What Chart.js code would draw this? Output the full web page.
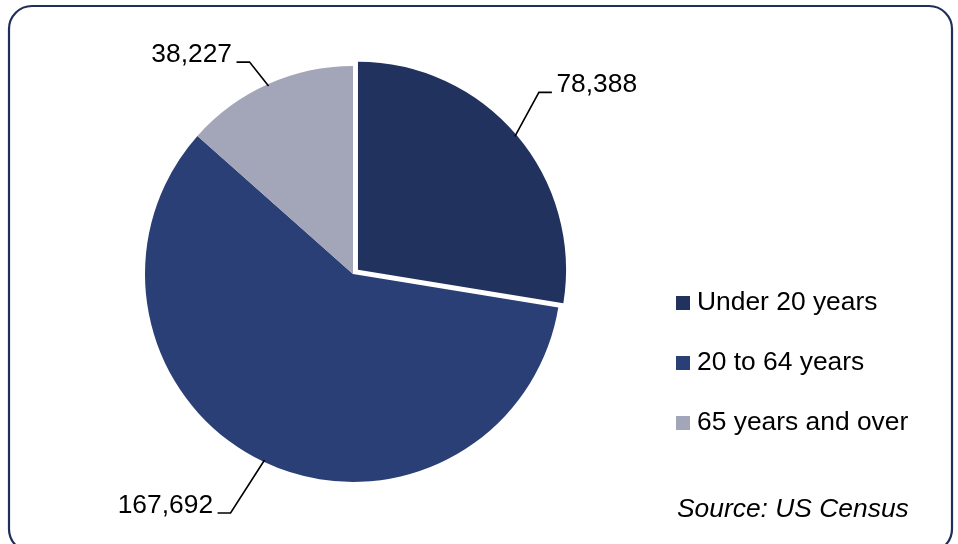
<!DOCTYPE html>
<html>
<head>
<meta charset="utf-8">
<script src="https://cdn.jsdelivr.net/npm/chart.js@4/dist/chart.umd.min.js"></script>
<style>
html, body { margin: 0; padding: 0; background: #fff; }
#wrap { width: 958px; height: 544px; }
</style>
</head>
<body>
<div id="wrap"><canvas id="chart" width="958" height="544"></canvas></div>
<script>
// Données du graphique
const categories = ['Under 20 years', '20 to 64 years', '65 years and over'];
const population = [78388, 167692, 38227];
const sliceColors = ['#21325F', '#2B3F77', '#A3A6B8'];
const sourceNote = 'Source: US Census';

const FONT = '26.4px "Liberation Sans", Arial, sans-serif';
const NAVY = '#1F2E5A';

// Cadre arrondi autour du graphique
const framePlugin = {
    id: 'frame',
    beforeDraw(chart) {
        const ctx = chart.ctx;
        ctx.save();
        ctx.fillStyle = '#fff';
        ctx.fillRect(0, 0, chart.width, chart.height);
        ctx.beginPath();
        ctx.roundRect(9, 6, 943, 546, 23);
        ctx.lineWidth = 2.2;
        ctx.strokeStyle = NAVY;
        ctx.stroke();
        ctx.restore();
    }
};

// Étiquettes de valeurs avec lignes de rappel
const labelPlugin = {
    id: 'leaderLabels',
    afterDatasetsDraw(chart, args, opts) {
        const ctx = chart.ctx;
        const meta = chart.getDatasetMeta(0);
        const values = chart.data.datasets[0].data;
        ctx.save();
        ctx.font = FONT;
        ctx.fillStyle = '#000';
        ctx.strokeStyle = '#000';
        ctx.lineWidth = 1.6;
        ctx.textBaseline = 'alphabetic';
        meta.data.forEach((arc, i) => {
            const mid = (arc.startAngle + arc.endAngle) / 2;
            const shift = (arc.options.offset || 0) / 4; // Chart.js translate offset/4
            const cx = arc.x + Math.cos(mid) * shift;
            const cy = arc.y + Math.sin(mid) * shift;
            const r = arc.outerRadius - 2;
            const ex = cx + Math.cos(mid) * r;
            const ey = cy + Math.sin(mid) * r;
            const [dx, dy] = opts.elbows[i];
            const bx = ex + dx, by = ey + dy;
            const dir = dx >= 0 ? 1 : -1;
            const hx = bx + dir * opts.tail;
            ctx.beginPath();
            ctx.moveTo(ex, ey);
            ctx.lineTo(bx, by);
            ctx.lineTo(hx, by);
            ctx.stroke();
            ctx.textAlign = dir > 0 ? 'left' : 'right';
            ctx.fillText(values[i].toLocaleString('en-US'), hx + dir * opts.gap, by);
        });
        ctx.restore();
    }
};

// Légende à droite + source
const legendPlugin = {
    id: 'sideLegend',
    afterDraw(chart, args, opts) {
        const ctx = chart.ctx;
        const ds = chart.data.datasets[0];
        ctx.save();
        ctx.font = FONT;
        ctx.textAlign = 'left';
        ctx.textBaseline = 'alphabetic';
        chart.data.labels.forEach((label, i) => {
            const y = opts.top + i * opts.step;
            ctx.fillStyle = ds.backgroundColor[i];
            ctx.fillRect(opts.left, y - opts.box, opts.box, opts.box);
            ctx.fillStyle = '#000';
            ctx.fillText(label, opts.left + opts.box + 7, y);
        });
        ctx.font = 'italic ' + FONT;
        ctx.fillText(sourceNote, opts.left + 1, opts.sourceY);
        ctx.restore();
    }
};

new Chart(document.getElementById('chart'), {
    type: 'pie',
    data: {
        labels: categories,
        datasets: [{
            data: population,
            backgroundColor: sliceColors,
            borderWidth: 0,
            offset: [26, 0, 0]
        }]
    },
    options: {
        responsive: false,
        animation: false,
        radius: 208,
        layout: { padding: { left: 0, right: 252, top: 4, bottom: 0 } },
        plugins: {
            legend: { display: false },
            tooltip: { enabled: false },
            leaderLabels: {
                elbows: [[24, -44], [-34, 53], [-19, -24]],
                tail: 13,
                gap: 4.5
            },
            sideLegend: { left: 676, top: 310, step: 60, box: 14, sourceY: 517 }
        }
    },
    plugins: [framePlugin, labelPlugin, legendPlugin]
});
</script>
</body>
</html>
